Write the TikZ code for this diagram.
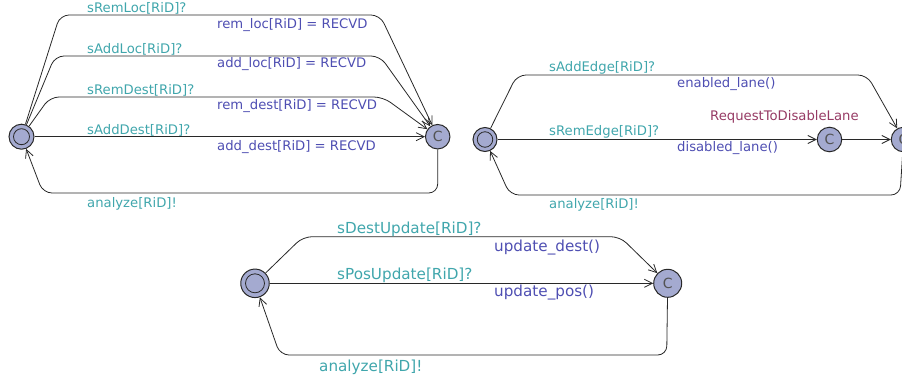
\documentclass[tikz,border=0pt]{standalone}
\usepackage{fontspec}
\setmainfont{DejaVu Sans}
\usetikzlibrary{arrows.meta}
\definecolor{syncc}{RGB}{64,166,172}
\definecolor{updc}{RGB}{78,78,178}
\definecolor{namec}{RGB}{150,58,100}
\definecolor{locfill}{RGB}{164,170,208}
\definecolor{edgec}{RGB}{40,40,40}
\tikzset{
  loc/.style={circle,draw=edgec,line width=1pt,fill=locfill,minimum size=#1,inner sep=0pt},
  loc/.default=24.5pt,
  initloc/.style={loc=#1,double=locfill,double distance=2pt},
  comm/.style={loc=#1,font=\fontsize{14}{14}\selectfont,text=edgec!80},
  edge/.style={draw=edgec,line width=0.8pt,rounded corners=9pt,
    -{Straight Barb[length=8pt,width=8pt,line width=0.8pt]}},
  lbl/.style={anchor=west,inner sep=0pt,font=\fontsize{13.2}{14}\selectfont},
  lblb/.style={anchor=west,inner sep=0pt,font=\fontsize{15.2}{16}\selectfont},
  sync/.style={text=syncc},
  upd/.style={text=updc},
  lname/.style={text=namec},
}
\begin{document}
\begin{tikzpicture}[x=1pt,y=-1pt]
\useasboundingbox (0,0) rectangle (902,378);

% ---- location/destination receiver ----
\node[loc=25pt] (i1) at (21.5,136.7) {};
\node[circle,draw=edgec,line width=0.8pt,minimum size=16pt,inner sep=0pt] (i1in) at (i1) {};
\node[comm=24.5pt] (c1) at (437.7,136.7) {C};
\draw[edge] (i1) -- (60,15) -- (380,15) -- (c1);
\draw[edge] (i1) -- (55,56) -- (380,56) -- (c1);
\draw[edge] (i1) -- (50,97) -- (383,97) -- (c1);
\draw[edge] (i1) -- (c1);
\draw[edge] (c1) -- (437.7,193) -- (43,193) -- (i1);
\node[lbl,sync] (l1) at (87,8) {sRemLoc[RiD]?};
\node[lbl,upd] (u1) at (217,25) {rem\_loc[RiD] = RECVD};
\node[lbl,sync] (l2) at (87,49) {sAddLoc[RiD]?};
\node[lbl,upd] (u2) at (217,64) {add\_loc[RiD] = RECVD};
\node[lbl,sync] (l3) at (87,90) {sRemDest[RiD]?};
\node[lbl,upd] (u3) at (217,106) {rem\_dest[RiD] = RECVD};
\node[lbl,sync] (l4) at (87,130) {sAddDest[RiD]?};
\node[lbl,upd] (u4) at (217,147) {add\_dest[RiD] = RECVD};
\node[lbl,sync] (l5) at (87,204) {analyze[RiD]!};

% ---- lane edge receiver ----
\node[loc=24pt] (i2) at (485,139.5) {};
\node[circle,draw=edgec,line width=0.8pt,minimum size=15.5pt,inner sep=0pt] (i2in) at (i2) {};
\node[comm=24.5pt] (m2) at (829.5,139.5) {C};
\node[comm=24.5pt] (c2) at (903.5,139.5) {C};
\draw[edge] (i2) -- (517,75) -- (867,75) -- (c2);
\draw[edge] (i2) -- (m2);
\draw[edge] (m2) -- (c2);
\draw[edge] (c2) -- (900,195) -- (510,195) -- (i2);
\node[lbl,sync] (l6) at (549,68) {sAddEdge[RiD]?};
\node[lbl,upd] (u6) at (677,84) {enabled\_lane()};
\node[lbl,lname] (n2) at (710,117) {RequestToDisableLane};
\node[lbl,sync] (l7) at (549,132) {sRemEdge[RiD]?};
\node[lbl,upd] (u7) at (677,148) {disabled\_lane()};
\node[lbl,sync] (l8) at (549,205) {analyze[RiD]!};

% ---- position/destination update receiver ----
\node[loc=28.5pt] (i3) at (255,283.3) {};
\node[circle,draw=edgec,line width=0.8pt,minimum size=19pt,inner sep=0pt] (i3in) at (i3) {};
\node[comm=28pt] (c3) at (667.7,283.3) {C};
\draw[edge] (i3) -- (303,236.7) -- (620,236.7) -- (c3);
\draw[edge] (i3) -- (c3);
\draw[edge] (c3) -- (666.7,355) -- (280,355) -- (i3);
\node[lblb,sync] (l9) at (337,229) {sDestUpdate[RiD]?};
\node[lblb,upd] (u9) at (494,248) {update\_dest()};
\node[lblb,sync] (l10) at (337,275) {sPosUpdate[RiD]?};
\node[lblb,upd] (u10) at (494,293) {update\_pos()};
\node[lblb,sync] (l11) at (319,367) {analyze[RiD]!};
\end{tikzpicture}
\end{document}
